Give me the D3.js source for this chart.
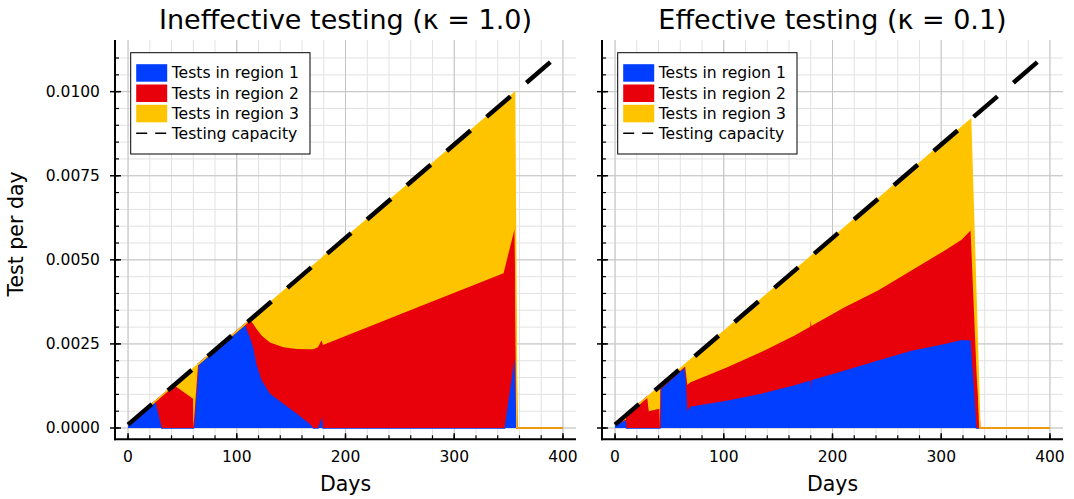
<!DOCTYPE html>
<html>
<head>
<meta charset="utf-8">
<script src="https://cdn.jsdelivr.net/npm/d3@7"></script>
<style>
body{margin:0;background:#fff}
text{font-family:"DejaVu Sans",sans-serif;fill:#000}
</style>
</head>
<body>
<svg id="chart" width="1074" height="499"></svg>
<script>
var regionNames = ["Tests in region 1", "Tests in region 2", "Tests in region 3"];
var regionColors = ["#023eff", "#e8000b", "#ffc400"];
var capacityName = "Testing capacity";
var capDays = [0, 400];
var capTests = [0.0001, 0.0112];
var xTicks = [0, 100, 200, 300, 400];
var yTicks = [0, 0.0025, 0.005, 0.0075, 0.01];
var yTickLabels = ["0.0000", "0.0025", "0.0050", "0.0075", "0.0100"];

// ineffective testing (kappa = 1.0)
var titleA = "Ineffective testing (κ = 1.0)";
var daysA = [0, 25, 31, 42.3, 59.8, 60.1, 64.4, 107.5, 110, 112, 115, 118, 122.8, 130.5, 142.8, 155, 167, 170.4, 174.7, 177.8, 178.5, 179.3, 260, 345.4, 346.3, 355.5, 357.6, 400];
var reg1A = [0.0001, 0.00079, 0, 0, 0, 0, 0.00189, 0.00308, 0.00285, 0.0027, 0.0024, 0.0019, 0.00142, 0.00102, 0.00072, 0.00043, 0.00013, 0, 0, 0.00025, 0.00033, 0, 0, 0, 0, 0.00206, 0, 0];
var reg2A = [0, 0, 0.00096, 0.00127, 0.00087, 0, 0, 0, 0.0003, 0.00051, 0.0007, 0.00105, 0.00133, 0.00152, 0.00168, 0.00192, 0.00221, 0.00234, 0.0024, 0.00235, 0.00222, 0.00247, 0.003505, 0.0046, 0.00472, 0.00386, 0, 0];
var reg3A = [0, 0, 0, 0, 0.00089, 0.00177, 0, 0, 0, 0, 0.00019, 0.000425, 0.000758, 0.001181, 0.001663, 0.002051, 0.002394, 0.002489, 0.002548, 0.00243, 0.0025, 0.00261, 0.00381, 0.005085, 0.00499, 0.00405, 0, 0];

// effective testing (kappa = 0.1)
var titleB = "Effective testing (κ = 0.1)";
var daysB = [0, 10, 10.6, 29.5, 31, 40.8, 41.2, 41.6, 63.8, 64.5, 66.5, 69, 103.8, 134.5, 165.2, 179.5, 180, 180.5, 211.2, 241.9, 272.6, 303.3, 318.7, 327, 332.5, 335.5, 400];
var reg1B = [0.0001, 0.00025, 0, 0, 0, 0, 0, 0.00117, 0.00181, 0.0018, 0.0005, 0.00063, 0.00082, 0.00102, 0.00127, 0.00141, 0.00115, 0.00142, 0.00171, 0.00201, 0.0023, 0.0025, 0.00262, 0.0026, 0, 0, 0];
var reg2B = [0, 0, 0.000394, 0.000919, 0.0005, 0.00057, 0, 0, 0, 0.00002, 0.00078, 0.00072, 0.00099, 0.00124, 0.00148, 0.0016, 0.00205, 0.00161, 0.00188, 0.00208, 0.00238, 0.00278, 0.00298, 0.00327, 0.00162, 0, 0];
var reg3B = [0, 0.000128, 0, 0, 0.00046, 0.00066, 0.001243, 0.000084, 0.00006, 0.00007, 0.000665, 0.000665, 0.00117, 0.00157, 0.00193, 0.00207, 0.0019, 0.00208, 0.00237, 0.00272, 0.00299, 0.00324, 0.00334, 0.0033, 0.00168, 0, 0];

var svg = d3.select("#chart");
var plotTop = 40, plotBottom = 439.3, plotW = 461;

function makePanel(left, title, days, r1, r2, r3, showYLabels){
	var rows = days.map(function(d, i){ return {day: d, r1: r1[i], r2: r2[i], r3: r3[i]}; });
	var capRows = capDays.map(function(d, i){ return {day: d, v: capTests[i]}; });

	var xMin = d3.min(days), xMax = d3.max(days);
	var xPad = (xMax - xMin) * 0.03;
	var yMax = d3.max(capTests), yPad = yMax * 0.03;
	var x = d3.scaleLinear().domain([xMin - xPad, xMax + xPad]).range([left, left + plotW]);
	var y = d3.scaleLinear().domain([-yPad, yMax + yPad]).range([plotBottom, plotTop]);

	var g = svg.append("g");

	// grid, minor first
	var xMinor = d3.range(0, 401, 20), yMinor = d3.range(0, 0.0111, 0.0005);
	var grid = g.append("g");
	grid.selectAll(".vminor").data(xMinor).enter().append("line")
		.attr("x1", x).attr("x2", x).attr("y1", plotTop).attr("y2", plotBottom)
		.attr("stroke", "#e2e2e2").attr("stroke-width", 1);
	grid.selectAll(".hminor").data(yMinor).enter().append("line")
		.attr("x1", left).attr("x2", left + plotW).attr("y1", y).attr("y2", y)
		.attr("stroke", "#e2e2e2").attr("stroke-width", 1);
	grid.selectAll(".vmajor").data(xTicks).enter().append("line")
		.attr("x1", x).attr("x2", x).attr("y1", plotTop).attr("y2", plotBottom)
		.attr("stroke", "#c4c4c4").attr("stroke-width", 1);
	grid.selectAll(".hmajor").data(yTicks).enter().append("line")
		.attr("x1", left).attr("x2", left + plotW).attr("y1", y).attr("y2", y)
		.attr("stroke", "#c4c4c4").attr("stroke-width", 1);

	// stacked areas
	var stacked = d3.stack().keys(["r1", "r2", "r3"])(rows);
	var area = d3.area().x(function(d){ return x(d.data.day); })
		.y0(function(d){ return y(d[0]); }).y1(function(d){ return y(d[1]); });
	var top = d3.line().x(function(d){ return x(d.data.day); }).y(function(d){ return y(d[1]); });
	stacked.forEach(function(layer, i){
		g.append("path").attr("d", area(layer)).attr("fill", regionColors[i]);
		g.append("path").attr("d", top(layer)).attr("fill", "none")
			.attr("stroke", regionColors[i]).attr("stroke-width", 1.5);
	});

	// capacity
	var capLine = d3.line().x(function(d){ return x(d.day); }).y(function(d){ return y(d.v); });
	g.append("path").attr("d", capLine(capRows)).attr("fill", "none")
		.attr("stroke", "#000").attr("stroke-width", 4.5).attr("stroke-dasharray", "31.5 21");

	// axes
	g.append("line").attr("x1", left).attr("x2", left).attr("y1", plotTop).attr("y2", plotBottom + 1)
		.attr("stroke", "#000").attr("stroke-width", 2);
	g.append("line").attr("x1", left - 1).attr("x2", left + plotW).attr("y1", plotBottom).attr("y2", plotBottom)
		.attr("stroke", "#000").attr("stroke-width", 2);
	g.selectAll(".xminort").data(xMinor).enter().append("line")
		.attr("x1", x).attr("x2", x).attr("y1", plotBottom).attr("y2", plotBottom - 4)
		.attr("stroke", "#000").attr("stroke-width", 1.2);
	g.selectAll(".yminort").data(yMinor).enter().append("line")
		.attr("x1", left).attr("x2", left + 4).attr("y1", y).attr("y2", y)
		.attr("stroke", "#000").attr("stroke-width", 1.2);
	g.selectAll(".xmajort").data(xTicks).enter().append("line")
		.attr("x1", x).attr("x2", x).attr("y1", plotBottom).attr("y2", plotBottom - 6)
		.attr("stroke", "#000").attr("stroke-width", 1.5);
	g.selectAll(".ymajort").data(yTicks).enter().append("line")
		.attr("x1", left - 5).attr("x2", left + 6).attr("y1", y).attr("y2", y)
		.attr("stroke", "#000").attr("stroke-width", 1.5);

	g.selectAll(".xlab").data(xTicks).enter().append("text")
		.attr("x", x).attr("y", 462).attr("text-anchor", "middle")
		.style("font-size", "15.5px").text(function(d){ return d; });
	if(showYLabels){
		g.selectAll(".ylab").data(yTicks).enter().append("text")
			.attr("x", left - 15).attr("y", function(d){ return y(d) + 5.5; }).attr("text-anchor", "end")
			.style("font-size", "15.5px").text(function(d, i){ return yTickLabels[i]; });
		g.append("text").attr("transform", "translate(22.5,234) rotate(-90)")
			.attr("text-anchor", "middle").style("font-size", "20.5px").text("Test per day");
	}
	g.append("text").attr("x", left + plotW / 2).attr("y", 491).attr("text-anchor", "middle")
		.style("font-size", "20.5px").text("Days");
	g.append("text").attr("x", left + plotW / 2).attr("y", 29).attr("text-anchor", "middle")
		.style("font-size", "27px").text(title);

	// legend
	var lx = left + 15.7, ly = 52.7;
	var leg = g.append("g");
	leg.append("rect").attr("x", lx).attr("y", ly).attr("width", 179.3).attr("height", 101.3)
		.attr("fill", "#fff").attr("stroke", "#000").attr("stroke-width", 1);
	regionNames.forEach(function(name, i){
		leg.append("rect").attr("x", lx + 5.5).attr("y", ly + 11.5 + i * 20.3).attr("width", 31).attr("height", 17.5)
			.attr("fill", regionColors[i]);
		leg.append("text").attr("x", lx + 41).attr("y", ly + 25.5 + i * 20.3)
			.style("font-size", "15.6px").text(name);
	});
	leg.append("line").attr("x1", lx + 5.5).attr("x2", lx + 36.5).attr("y1", ly + 80.5).attr("y2", ly + 80.5)
		.attr("stroke", "#000").attr("stroke-width", 1.5).attr("stroke-dasharray", "11 8");
	leg.append("text").attr("x", lx + 41).attr("y", ly + 86.4)
		.style("font-size", "15.6px").text(capacityName);
}

makePanel(115, titleA, daysA, reg1A, reg2A, reg3A, true);
makePanel(602, titleB, daysB, reg1B, reg2B, reg3B, false);
</script>
</body>
</html>
